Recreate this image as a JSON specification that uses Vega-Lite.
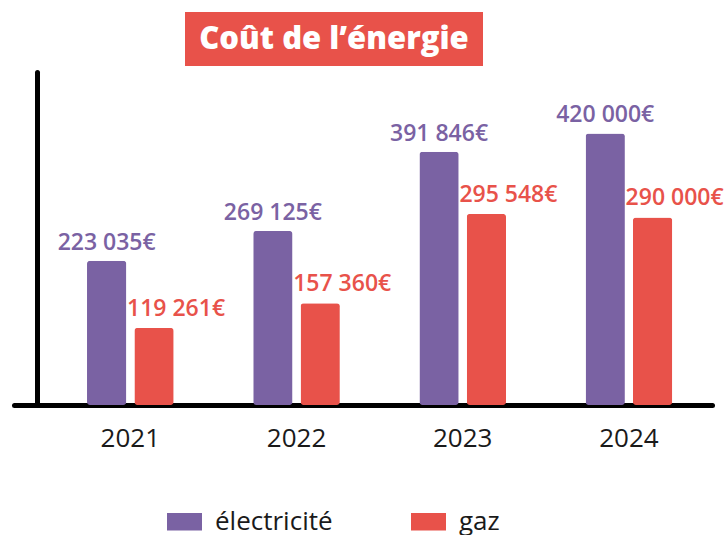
{
  "$schema": "https://vega.github.io/schema/vega-lite/v6.json",
  "background": "white",
  "padding": {"left": 14, "top": 12, "right": 0, "bottom": 0},
  "config": {"view": {"stroke": null}, "font": "Open Sans"},
  "datasets": {
    "costs": [
      {"year": "2021", "type": "électricité", "value": 223035, "label": "223 035€"},
      {"year": "2021", "type": "gaz", "value": 119261, "label": "119 261€"},
      {"year": "2022", "type": "électricité", "value": 269125, "label": "269 125€"},
      {"year": "2022", "type": "gaz", "value": 157360, "label": "157 360€"},
      {"year": "2023", "type": "électricité", "value": 391846, "label": "391 846€"},
      {"year": "2023", "type": "gaz", "value": 295548, "label": "295 548€"},
      {"year": "2024", "type": "électricité", "value": 420000, "label": "420 000€"},
      {"year": "2024", "type": "gaz", "value": 290000, "label": "290 000€"}
    ]
  },
  "spacing": 6,
  "vconcat": [
    {
      "spacing": 0,
      "hconcat": [
        {
          "data": {"values": [{"t": ""}]},
          "width": 171,
          "height": 54,
          "mark": {"type": "text"},
          "encoding": {"text": {"field": "t"}}
        },
        {
          "data": {"values": [{"t": "Coût de l’énergie"}]},
          "width": 298,
          "height": 54,
          "view": {"fill": "#E8524A", "stroke": null},
          "mark": {"type": "text", "color": "white", "fontSize": 31, "fontWeight": 800, "font": "Open Sans", "dy": 1},
          "encoding": {"text": {"field": "t"}}
        }
      ]
    },
    {
      "data": {"name": "costs"},
      "width": 698,
      "height": 333,
      "encoding": {
        "x": {
          "field": "year",
          "type": "nominal",
          "scale": {"paddingInner": 0, "paddingOuter": 0.1, "align": 1},
          "axis": {
            "title": null,
            "labelAngle": 0,
            "ticks": false,
            "labelFontSize": 26,
            "labelColor": "#1a1a1a",
            "labelPadding": 20,
            "labelFont": "Open Sans",
            "domainColor": "black",
            "domainWidth": 5,
            "domainCap": "round"
          }
        },
        "xOffset": {
          "field": "type",
          "scale": {"domain": ["électricité", "gaz"], "paddingInner": 0.17, "paddingOuter": 0.84}
        },
        "y": {
          "field": "value",
          "type": "quantitative",
          "scale": {"domain": [0, 515000], "nice": false},
          "axis": {
            "orient": "left",
            "offset": -23,
            "labels": false,
            "ticks": false,
            "grid": false,
            "title": null,
            "domainColor": "black",
            "domainWidth": 5,
            "domainCap": "round"
          }
        },
        "color": {
          "field": "type",
          "type": "nominal",
          "scale": {"domain": ["électricité", "gaz"], "range": ["#7A62A3", "#E8524A"]},
          "legend": {
            "title": null,
            "orient": "none",
            "direction": "horizontal",
            "legendX": 153,
            "legendY": 492,
            "symbolType": "M-1,-0.5H1V0.5H-1Z",
            "symbolSize": 1225,
            "symbolStrokeWidth": 0,
            "symbolOpacity": 1,
            "labelFontSize": 26,
            "labelFont": "Open Sans",
            "labelColor": "#1a1a1a",
            "labelOffset": 13,
            "columnPadding": 78
          }
        }
      },
      "layer": [
        {"mark": {"type": "bar", "cornerRadius": 3}},
        {
          "transform": [{"filter": "datum.type == 'électricité'"}],
          "mark": {"type": "text", "baseline": "alphabetic", "dy": -11, "fontSize": 23, "fontWeight": 600, "font": "Open Sans"},
          "encoding": {"text": {"field": "label"}}
        },
        {
          "transform": [{"filter": "datum.type == 'gaz'"}],
          "mark": {"type": "text", "align": "left", "baseline": "alphabetic", "dx": -27, "dy": -12, "fontSize": 23, "fontWeight": 600, "font": "Open Sans"},
          "encoding": {"text": {"field": "label"}}
        }
      ]
    }
  ]
}
